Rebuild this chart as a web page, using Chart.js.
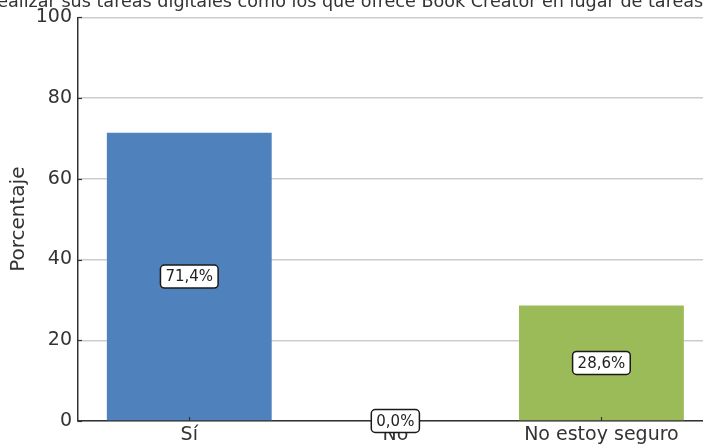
<!DOCTYPE html>
<html>
<head>
<meta charset="utf-8">
<script src="https://cdn.jsdelivr.net/npm/chart.js@4"></script>
<style>
  html, body { margin: 0; padding: 0; background: #fff; overflow: hidden; }
  #wrap { width: 740px; height: 447px; }
</style>
</head>
<body>
<div id="wrap"><canvas id="grafico"></canvas></div>
<script>
// ================= DATOS =================
const titulo = "¿Le gustaría realizar sus tareas digitales como los que ofrece Book Creator en lugar de tareas tradicionales en papel?";
const categorias = ["Sí", "No", "No estoy seguro"];
const porcentajes = [71.4, 0.0, 28.6];
const colores = ["#4F81BD", "#C0504D", "#9BBB59"];
const ticksY = [0, 20, 40, 60, 80, 100];

const texto = "#333333";
Chart.defaults.font.family = "'DejaVu Sans', sans-serif";

// ================= PLUGIN: titulo, marcas y etiquetas =================
const extras = {
    id: "extras",
    afterDraw(chart) {
        const ctx = chart.ctx;
        const area = chart.chartArea;
        const x = chart.scales.x;
        const y = chart.scales.y;

        ctx.save();

        // marcas hacia dentro
        ctx.strokeStyle = texto;
        ctx.lineWidth = 1.2;
        ticksY.forEach(v => {
            const py = Math.round(y.getPixelForValue(v)) + 0.5;
            ctx.beginPath();
            ctx.moveTo(area.left, py);
            ctx.lineTo(area.left + 4, py);
            ctx.stroke();
        });
        categorias.forEach((c, i) => {
            const px = Math.round(x.getPixelForValue(i)) + 0.5;
            ctx.beginPath();
            ctx.moveTo(px, area.bottom);
            ctx.lineTo(px, area.bottom - 4);
            ctx.stroke();
        });

        // etiquetas de valor
        ctx.font = "15px 'DejaVu Sans'";
        ctx.textAlign = "center";
        ctx.textBaseline = "middle";
        chart.getDatasetMeta(0).data.forEach((bar, i) => {
            const etiqueta = porcentajes[i].toFixed(1).replace(".", ",") + "%";
            const cx = bar.x;
            const cy = (bar.y + bar.base) / 2;
            const w = ctx.measureText(etiqueta).width + 10;
            const h = 23;
            ctx.beginPath();
            ctx.roundRect(cx - w / 2, cy - h / 2, w, h, 4);
            ctx.fillStyle = "#ffffff";
            ctx.fill();
            ctx.lineWidth = 1.5;
            ctx.strokeStyle = "#1a1a1a";
            ctx.stroke();
            ctx.fillStyle = "#222222";
            ctx.fillText(etiqueta, cx, cy + 1);
        });

        // titulo (centrado sobre el area, recortado por la ventana)
        ctx.font = "17.6px 'DejaVu Sans'";
        ctx.fillStyle = texto;
        ctx.textAlign = "center";
        ctx.textBaseline = "alphabetic";
        ctx.fillText(titulo, (area.left + area.right) / 2, 6.5);

        ctx.restore();
    }
};

// ================= GRAFICO =================
new Chart(document.getElementById("grafico"), {
    type: "bar",
    data: {
        datasets: [{
            data: categorias.map((c, i) => ({ x: i, y: porcentajes[i] })),
            backgroundColor: colores,
            borderWidth: 0,
            barPercentage: 0.8,
            categoryPercentage: 1.0
        }]
    },
    options: {
        responsive: true,
        maintainAspectRatio: false,
        animation: false,
        layout: { padding: { top: 16, right: 27.3, left: 0, bottom: 0 } },
        plugins: {
            legend: { display: false },
            tooltip: { enabled: false }
        },
        scales: {
            x: {
                type: "linear",
                offset: false,
                min: -0.54,
                max: 2.54,
                z: 1,
                afterFit: s => { s.height = 26; },
                afterBuildTicks: s => { s.ticks = categorias.map((c, i) => ({ value: i })); },
                grid: { display: false, drawTicks: false, offset: false },
                border: { display: true, color: texto, width: 1.5 },
                ticks: {
                    padding: 3,
                    color: texto,
                    font: { size: 19 },
                    autoSkip: false,
                    maxRotation: 0,
                    callback: v => categorias[v]
                }
            },
            y: {
                min: 0,
                max: 100,
                z: 1,
                afterFit: s => { s.width = 78; },
                afterBuildTicks: s => { s.ticks = ticksY.map(v => ({ value: v })); },
                grid: { color: "rgba(0,0,0,0.2)", lineWidth: 1.5, drawTicks: false },
                border: { display: true, color: texto, width: 1.5 },
                ticks: { padding: 6, color: texto, font: { size: 19 } },
                title: {
                    display: true,
                    text: "Porcentaje",
                    color: texto,
                    font: { size: 20 },
                    padding: { top: 7, bottom: 0 }
                }
            }
        }
    },
    plugins: [extras]
});
</script>
</body>
</html>
